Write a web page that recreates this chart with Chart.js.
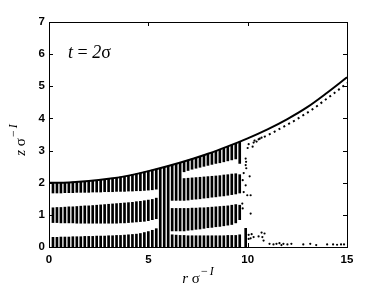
<!DOCTYPE html>
<html>
<head>
<meta charset="utf-8">
<script src="https://cdn.jsdelivr.net/npm/chart.js@4.4.0/dist/chart.umd.min.js"></script>
<style>
  html, body { margin: 0; padding: 0; background: #fff; }
</style>
</head>
<body>
<canvas id="chart" width="382" height="287"></canvas>
<script>
// Posiciones radiales de las columnas (r / sigma)
const rLeft = [0.2, 0.4, 0.6, 0.8, 1.0, 1.2, 1.4, 1.6, 1.8, 2.0, 2.2, 2.4, 2.6, 2.8,
  3.0, 3.2, 3.4, 3.6, 3.8, 4.0, 4.2, 4.4, 4.6, 4.8, 5.0, 5.2, 5.4];
const rFull = [5.6, 5.8, 6.0];
const rTrans = [6.2, 6.4, 6.6];
const rRight = [6.8, 7.0, 7.2, 7.4, 7.6, 7.8, 8.0, 8.2, 8.4, 8.6, 8.8, 9.0, 9.2, 9.4, 9.6];
const rEdge = [9.9];

// Capa 1 (pegada al fondo)
const layer1Hi = [0.30, 0.30, 0.31, 0.31, 0.31, 0.32, 0.32, 0.32, 0.33, 0.33, 0.33, 0.34, 0.34, 0.34,
  0.35, 0.35, 0.36, 0.36, 0.37, 0.38, 0.39, 0.40, 0.42, 0.45, 0.48, 0.52, 0.57,
  0.38, 0.37, 0.36,
  0.36, 0.35, 0.35, 0.35, 0.35, 0.35, 0.35, 0.35, 0.35, 0.35, 0.35, 0.36, 0.36, 0.36, 0.38,
  0.58];

// Capa 2
const layer2Lo = [0.76, 0.76, 0.75, 0.75, 0.75, 0.75, 0.74, 0.74, 0.74, 0.74, 0.74, 0.74, 0.74, 0.74,
  0.74, 0.74, 0.74, 0.75, 0.75, 0.76, 0.77, 0.78, 0.79, 0.80, 0.82, 0.85, 0.88,
  0.50, 0.50, 0.50,
  0.50, 0.52, 0.53, 0.55, 0.56, 0.58, 0.60, 0.61, 0.63, 0.64, 0.66, 0.68, 0.70, 0.75, 0.85];
const layer2Hi = [1.22, 1.23, 1.23, 1.24, 1.25, 1.25, 1.26, 1.27, 1.28, 1.28, 1.29, 1.30, 1.31, 1.32,
  1.33, 1.34, 1.35, 1.36, 1.37, 1.38, 1.39, 1.41, 1.42, 1.44, 1.46, 1.48, 1.52,
  1.20, 1.20, 1.20,
  1.20, 1.20, 1.21, 1.21, 1.22, 1.22, 1.23, 1.24, 1.25, 1.26, 1.27, 1.28, 1.30, 1.32, 1.30];

// Capa 3
const layer3Lo = [1.68, 1.68, 1.68, 1.69, 1.69, 1.69, 1.70, 1.70, 1.70, 1.70, 1.71, 1.71, 1.71, 1.72,
  1.72, 1.72, 1.73, 1.73, 1.73, 1.74, 1.74, 1.75, 1.75, 1.76, 1.77, 1.78, 1.80,
  1.45, 1.45, 1.45,
  1.45, 1.46, 1.48, 1.49, 1.50, 1.52, 1.53, 1.55, 1.56, 1.58, 1.59, 1.61, 1.63, 1.65, 1.68];
const layer3Hi = [2.00, 2.00, 2.00, 2.01, 2.01, 2.02, 2.02, 2.03, 2.04, 2.05, 2.06, 2.07, 2.09, 2.10,
  2.12, 2.14, 2.16, 2.18, 2.20, 2.22, 2.25, 2.27, 2.30, 2.33, 2.36, 2.39, 2.42,
  2.55, 2.59, 2.62,
  2.13, 2.14, 2.15, 2.16, 2.17, 2.18, 2.19, 2.20, 2.21, 2.22, 2.24, 2.25, 2.27, 2.28, 2.25];

// Capa 4 (solo a la derecha)
const layer4Lo = [2.34, 2.38, 2.42, 2.45, 2.48, 2.51, 2.54, 2.57, 2.60, 2.62, 2.65, 2.68, 2.71, 2.74, 2.60];
const layer4Hi = [2.66, 2.70, 2.74, 2.78, 2.82, 2.86, 2.90, 2.94, 2.98, 3.03, 3.07, 3.12, 3.17, 3.22, 3.27];

// Columnas completas
const fullHi = [2.45, 2.48, 2.52];

// Perfil de la interfaz (linea continua)
const curveR = [0, 1, 2, 3, 4, 5, 6, 7, 8, 9, 10, 11, 12, 13, 14, 15];
const curveZ = [2.00, 2.01, 2.05, 2.12, 2.22, 2.36, 2.52, 2.70, 2.90, 3.13, 3.38, 3.66, 3.98, 4.35, 4.80, 5.28];

// Linea punteada
const dotR = [10.3, 10.8, 11.3, 11.8, 12.3, 12.8, 13.3, 13.8, 14.3, 14.8, 15.0];
const dotZ = [3.30, 3.42, 3.57, 3.74, 3.91, 4.10, 4.30, 4.53, 4.76, 5.00, 5.10];

// Particulas sueltas
const strayR = [10.0, 10.05, 10.25, 10.3, 10.45, 10.55, 10.7, 9.9, 9.92, 9.9, 9.93, 9.8, 10.1, 9.75,
  9.9, 9.8, 9.98, 10.15, 9.73, 9.75, 10.15, 10.05, 10.2, 10.05, 10.15, 10.3, 10.55, 10.74, 10.8,
  10.7, 10.85, 11.1, 11.3, 11.45, 11.6, 11.7, 11.8, 12.0, 12.2, 12.8, 13.15, 13.45, 14.0, 14.3,
  14.5, 14.7, 14.85];
const strayZ = [3.08, 3.20, 3.12, 3.25, 3.28, 3.35, 3.40, 2.75, 2.65, 2.55, 2.45, 2.30, 2.20, 2.08,
  1.92, 1.71, 1.61, 1.61, 1.35, 1.20, 1.04, 0.38, 0.40, 0.25, 0.27, 0.31, 0.33, 0.31, 0.20,
  0.45, 0.42, 0.10, 0.08, 0.10, 0.12, 0.06, 0.10, 0.08, 0.10, 0.08, 0.10, 0.06, 0.08, 0.08,
  0.07, 0.08, 0.08];

const xTicks = [0, 5, 10, 15];
const yTicks = [0, 1, 2, 3, 4, 5, 6, 7];

function bars(rs, lo, hi) {
  return rs.map((r, i) => ({ x: r, y: [Array.isArray(lo) ? lo[i] : lo, hi[i]] }));
}
function pts(rs, zs) {
  return rs.map((r, i) => ({ x: r, y: zs[i] }));
}

const r123 = rLeft.concat(rTrans, rRight);

const barStyle = {
  type: 'bar',
  backgroundColor: '#000',
  borderWidth: 0,
  borderSkipped: false,
  grouped: false,
  barPercentage: 1,
  categoryPercentage: 1,
  maxBarThickness: 2,
  order: 3
};

// Dibuja texto con partes (cursiva, superindice...)
function drawParts(ctx, parts, cx, baseline) {
  let total = 0;
  parts.forEach(p => { ctx.font = p.font; total += ctx.measureText(p.t).width + (p.gap || 0); });
  let x = cx - total / 2;
  parts.forEach(p => {
    ctx.font = p.font;
    x += p.gap || 0;
    ctx.fillText(p.t, x, baseline + (p.dy || 0));
    x += ctx.measureText(p.t).width;
  });
}

const framePlugin = {
  id: 'frame',
  afterDraw(chart) {
    const { ctx, chartArea: a, scales: { x, y } } = chart;
    ctx.save();
    ctx.strokeStyle = '#000';
    ctx.lineWidth = 1;
    ctx.strokeRect(a.left + 0.5, a.top + 0.5, a.right - a.left, a.bottom - a.top);
    ctx.beginPath();
    xTicks.forEach(v => {
      const px = Math.round(x.getPixelForValue(v)) + 0.5;
      ctx.moveTo(px, a.bottom); ctx.lineTo(px, a.bottom - 4);
      ctx.moveTo(px, a.top); ctx.lineTo(px, a.top + 4);
    });
    yTicks.forEach(v => {
      const py = Math.round(y.getPixelForValue(v)) + 0.5;
      ctx.moveTo(a.left, py); ctx.lineTo(a.left + 4, py);
      ctx.moveTo(a.right, py); ctx.lineTo(a.right - 4, py);
    });
    ctx.stroke();

    ctx.fillStyle = '#000';
    ctx.textBaseline = 'alphabetic';
    ctx.textAlign = 'left';
    // t = 2σ
    const tx = 68, ty = 58;
    let cx = tx;
    [['t', 'italic 18px "Liberation Serif"'], [' = ', '18px "Liberation Serif"'],
     ['2', 'italic 18px "Liberation Serif"'], ['σ', '18px "Liberation Serif"']].forEach(([t, f]) => {
      ctx.font = f; ctx.fillText(t, cx, ty); cx += ctx.measureText(t).width;
    });

    // eje x
    drawParts(ctx, [
      { t: 'r', font: 'italic 15px "Liberation Serif"' },
      { t: ' σ', font: '15px "Liberation Serif"' },
      { t: '−', font: '12px "Liberation Serif"', dy: -8, gap: 1 },
      { t: 'I', font: 'italic 12px "Liberation Serif"', dy: -8, gap: 2 }
    ], (a.left + a.right) / 2, 283);

    // eje y
    ctx.translate(25, 140);
    ctx.rotate(-Math.PI / 2);
    drawParts(ctx, [
      { t: 'z', font: 'italic 15px "Liberation Serif"' },
      { t: ' σ', font: '15px "Liberation Serif"' },
      { t: '−', font: '12px "Liberation Serif"', dy: -8, gap: 1 },
      { t: 'I', font: 'italic 12px "Liberation Serif"', dy: -8, gap: 2 }
    ], 0, 0);
    ctx.restore();
  }
};

const tickFont = { family: '"Liberation Sans", Arial, sans-serif', size: 11.5, weight: 'bold' };

new Chart(document.getElementById('chart'), {
  type: 'bar',
  data: {
    datasets: [
      Object.assign({ data: bars(r123.concat(rEdge), 0, layer1Hi) }, barStyle),
      Object.assign({ data: bars(r123, layer2Lo, layer2Hi) }, barStyle),
      Object.assign({ data: bars(r123, layer3Lo, layer3Hi) }, barStyle),
      Object.assign({ data: bars(rRight, layer4Lo, layer4Hi) }, barStyle),
      Object.assign({ data: bars(rFull, 0, fullHi) }, barStyle),
      {
        type: 'scatter',
        data: pts(strayR, strayZ),
        pointRadius: 1.1,
        pointBackgroundColor: '#000',
        pointBorderWidth: 0,
        order: 2
      },
      {
        type: 'line',
        data: pts(dotR, dotZ),
        borderColor: '#000',
        borderWidth: 2,
        borderDash: [2, 3.5],
        pointRadius: 0,
        cubicInterpolationMode: 'monotone',
        fill: false,
        order: 1
      },
      {
        type: 'line',
        data: pts(curveR, curveZ),
        borderColor: '#000',
        borderWidth: 2,
        pointRadius: 0,
        cubicInterpolationMode: 'monotone',
        fill: false,
        order: 0
      }
    ]
  },
  options: {
    responsive: false,
    animation: false,
    devicePixelRatio: 1,
    layout: { padding: { left: 0, right: 35, top: 22, bottom: 0 } },
    plugins: { legend: { display: false }, tooltip: { enabled: false } },
    scales: {
      x: {
        type: 'linear', min: 0, max: 15, offset: false,
        grid: { display: false, drawTicks: false },
        border: { display: false },
        ticks: { stepSize: 5, padding: 6, color: '#000', font: tickFont, maxRotation: 0 },
        afterFit(s) { s.height = 40; }
      },
      y: {
        type: 'linear', min: 0, max: 7,
        grid: { display: false, drawTicks: false },
        border: { display: false },
        ticks: { stepSize: 1, padding: 4, color: '#000', font: tickFont },
        afterFit(s) { s.width = 49; }
      }
    }
  },
  plugins: [framePlugin]
});
</script>
</body>
</html>
